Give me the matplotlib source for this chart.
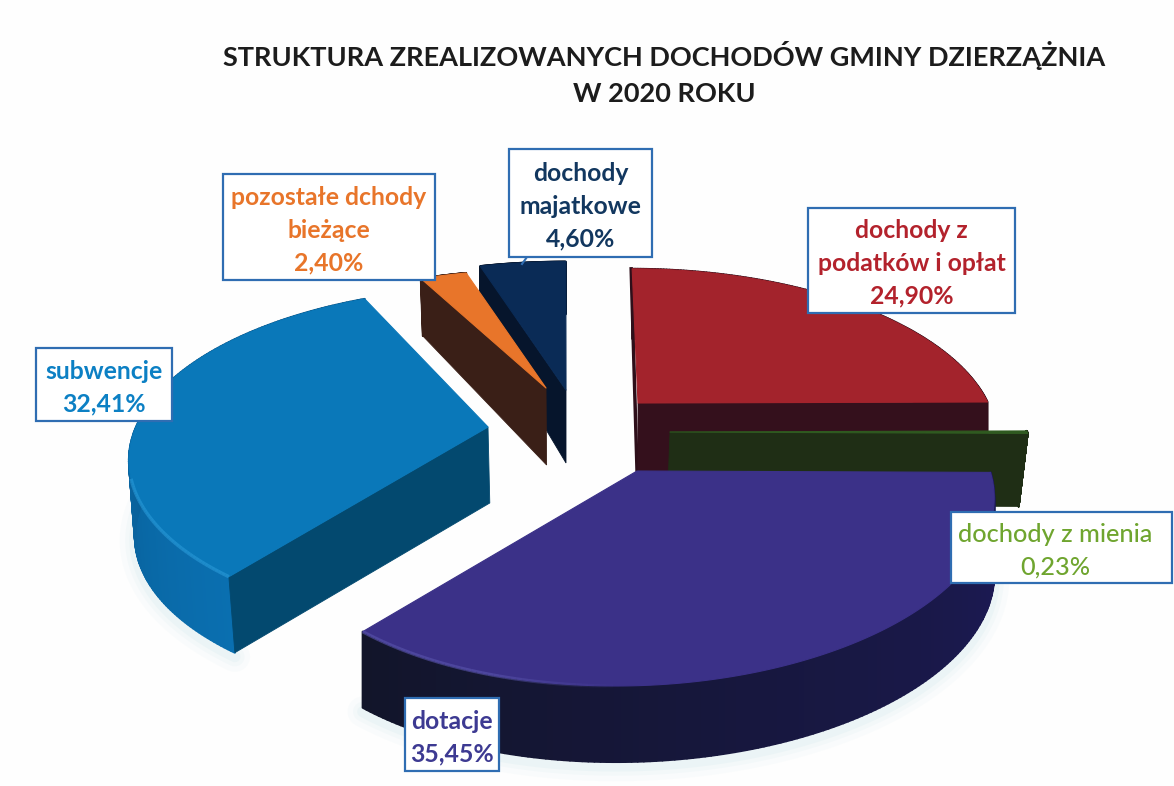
import matplotlib
matplotlib.use("Agg")
import matplotlib.pyplot as plt
from matplotlib.collections import PolyCollection
from matplotlib.colors import to_rgb
from matplotlib.patches import Polygon, Rectangle
import numpy as np

TITLE = "STRUKTURA ZREALIZOWANYCH DOCHODÓW GMINY DZIERZĄŻNIA\nW 2020 ROKU"

# clockwise from twelve o'clock
NAMES = ["dochody z\npodatków i opłat", "dochody z mienia", "dotacje", "subwencje",
         "pozostałe dchody\nbieżące", "dochody\nmajatkowe"]
SHARES = [24.90, 0.23, 35.45, 32.41, 2.40, 4.60]

# each slice is pulled out by hand in the original, so every one has its own frame
# apex, R, G, skew, perspective, wall height, taper, wall x shift
FRAMES = [
    dict(apex=(638, 403), R=350, G=161, s=-7, k=0.20, h=70, t=0, dx=0),
    dict(apex=(670, 432), R=357, G=170, s=0, k=0.20, h=73, t=0, dx=-9),
    dict(apex=(637, 471), R=353, G=172, s=17, k=0.20, h=76, t=0, dx=0),
    dict(apex=(488, 427), R=352, G=164, s=8, k=0.175, h=76, t=0, dx=6),
    dict(apex=(546, 388), R=370, G=143, s=11, k=0.20, h=77, t=0.28, dx=2),
    dict(apex=(566, 390), R=358, G=154, s=0, k=0.20, h=73, t=0.28, dx=0),
]
TOPS = ["#A3232C", "#2F5A20", "#3B3188", "#0A78B9", "#E8752A", "#0A2B56"]
WALL_A = ["#2E0F1A", "#1F2E15", "#1D1A58", "#0A6FB0", "#3A1F17", "#06152C"]
WALL_B = ["#2E0F1A", "#1F2E15", "#12152A", "#074F80", "#3A1F17", "#06152C"]
CUTS = ["#34101C", "#1F2E15", None, "#03496F", "#3A1F17", "#06152C"]
CUT_END = [True, True, False, False, False, False]
RIMS = [None, None, "#5A55AE", "#2A9AD8", None, None]

LABEL_BOXES = [(808, 208, 207, 105), (951, 512, 221, 71), (405, 698, 94, 73),
               (36, 348, 136, 73), (223, 174, 212, 106), (509, 149, 143, 108)]
LABEL_NUDGE = [0, -6, 0, 0, 0, 0]
LABEL_COLORS = ["#B3222C", "#6FA52F", "#3D3A92", "#0C80C4", "#E8752A", "#12375F"]
BOX_EDGE = "#2F6DB2"
DRAW_ORDER = [5, 4, 0, 1, 3, 2]


def project(fr, theta):
    u, v = np.sin(theta), np.cos(theta)
    d = 1 + fr["k"] * v
    x = fr["apex"][0] + (fr["R"] * u + fr["s"] * v) / d
    y = fr["apex"][1] - fr["G"] * v / d
    return x, y, v


def drop(fr, v):
    return fr["h"] * (1 - fr["t"] * v)


def blend(a, b, n):
    a, b = np.array(to_rgb(a)), np.array(to_rgb(b))
    return [tuple(a + (b - a) * i / max(n - 1, 1)) for i in range(n)]


fig = plt.figure(figsize=(11.74, 7.86), dpi=100, facecolor="#FEFEFE")
ax = fig.add_axes([0, 0, 1, 1])
ax.set_xlim(0, 1174)
ax.set_ylim(786, 0)
ax.axis("off")

edges = np.radians(np.cumsum([0] + SHARES) * 3.6)

# soft halo under the two big slices
for i in (3, 2):
    fr = FRAMES[i]
    th = np.linspace(edges[i], edges[i + 1], 160)
    x, y, v = project(fr, th)
    mask = v < 0.3
    for lw, al in [(22, 0.05), (14, 0.07), (8, 0.10)]:
        ax.plot(x[mask] + fr["dx"], y[mask] + drop(fr, v[mask]) + 4, color="#A9D6DE",
                lw=lw, alpha=al, solid_capstyle="round", zorder=1)

z = 2
for i in DRAW_ORDER:
    fr = FRAMES[i]
    a, b = edges[i], edges[i + 1]
    ax0, ay0 = fr["apex"]
    th = np.linspace(a, b, 160)
    x, y, v = project(fr, th)
    d = drop(fr, v)

    # outer wall, one quad per step so the shade can drift along the arc
    quads = [[(x[j], y[j]), (x[j + 1], y[j + 1]),
              (x[j + 1] + fr["dx"], y[j + 1] + d[j + 1]), (x[j] + fr["dx"], y[j] + d[j])]
             for j in range(len(th) - 1)]
    walls = PolyCollection(quads, facecolors=blend(WALL_A[i], WALL_B[i], len(quads)),
                           edgecolors="face", linewidths=1.5, zorder=z)
    ax.add_collection(walls)

    # flat cut face towards the viewer
    if CUTS[i]:
        cx, cy, cv = project(fr, b if CUT_END[i] else a)
        cd = drop(fr, cv)
        apex_drop = drop(fr, 0)
        ax.add_patch(Polygon([(ax0, ay0), (cx, cy), (cx + fr["dx"], cy + cd),
                              (ax0 + fr["dx"] * 0.3, ay0 + apex_drop)],
                             facecolor=CUTS[i], edgecolor=CUTS[i], lw=0.6, zorder=z + 0.1))

    top = np.column_stack([np.r_[ax0, x], np.r_[ay0, y]])
    ax.add_patch(Polygon(top, facecolor=TOPS[i], edgecolor=TOPS[i], lw=0.8,
                         joinstyle="round", zorder=z + 0.2))

    if RIMS[i]:
        # highlight only on the left part of the rim, it fades out towards the right
        for j in range(len(th) - 1):
            fade = min(1.0, (-np.sin(th[j]) + 0.02) / 0.3)
            if v[j] < -0.3 and fade > 0:
                ax.plot(x[j:j + 2], y[j:j + 2], color=RIMS[i], lw=2.5, alpha=0.6 * fade,
                        solid_capstyle="butt", zorder=z + 0.3)
    z += 1

# dark seam on the back edge of the red slice
fr = FRAMES[0]
tx, ty, tv = project(fr, edges[0])
ax.plot([tx - 1, fr["apex"][0] - 1], [ty, fr["apex"][1] + fr["h"] - 3], color="#2E0F1A", lw=2.5, zorder=2.4)

# callout stub of the navy label
ax.plot([527, 522], [257, 264], color=BOX_EDGE, lw=1.5, zorder=20)

for name, share, box, nudge, col in zip(NAMES, SHARES, LABEL_BOXES, LABEL_NUDGE, LABEL_COLORS):
    bx, by, bw, bh = box
    ax.add_patch(Rectangle((bx, by), bw, bh, facecolor="white", edgecolor=BOX_EDGE, lw=1.6, zorder=20))
    weight = "medium" if name == "dochody z mienia" else "bold"
    size = 18.2 if name == "dochody z mienia" else 17.8
    label = name + "\n" + f"{share:.2f}".replace(".", ",") + "%"
    ax.text(bx + bw / 2 + nudge, by + bh / 2 + 3, label, ha="center", va="center", color=col,
            fontsize=size, family="Lato", fontweight=weight, linespacing=1.5, zorder=21)

ax.text(664, 73, TITLE, ha="center", va="center", color="#1C1C1C", fontsize=19.55,
        family="Lato", fontweight="bold", linespacing=1.6, zorder=21)

fig.savefig("out.png", dpi=100, facecolor=fig.get_facecolor())
